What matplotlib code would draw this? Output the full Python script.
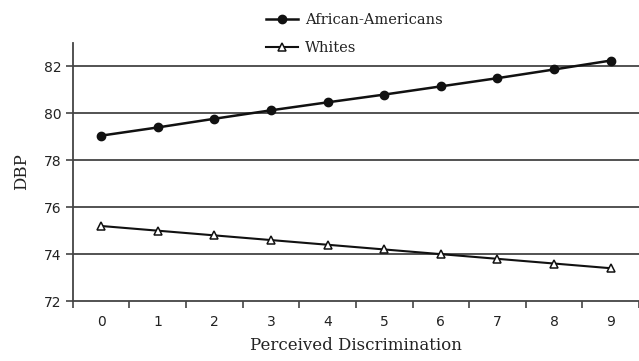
import numpy as np
import matplotlib
matplotlib.use("Agg")
import matplotlib.pyplot as plt

# data
discrimination = [0, 1, 2, 3, 4, 5, 6, 7, 8, 9]
african_americans = [79.05, 79.4, 79.77, 80.13, 80.47, 80.8, 81.15, 81.5, 81.87, 82.25]
whites = [75.2, 75.0, 74.8, 74.6, 74.4, 74.2, 74.0, 73.8, 73.6, 73.4]
y_ticks = [72, 74, 76, 78, 80, 82]

fig = plt.figure(figsize=(6.39, 3.61), dpi=100)
ax = fig.add_axes([0.114, 0.166, 0.886, 0.715])

# grid lines
for yv in y_ticks[1:]:
    ax.axhline(yv, color='#444444', lw=1.3, zorder=1)

ax.plot(discrimination, african_americans, color='#111111', lw=1.8,
        marker='o', ms=6, mfc='#111111', mec='#111111',
        label='African-Americans', zorder=3)
ax.plot(discrimination, whites, color='#111111', lw=1.5,
        marker='^', ms=6, mfc='white', mec='#111111', mew=1.1,
        label='Whites', zorder=3)

ax.set_xlim(-0.5, 9.5)
ax.set_ylim(72, 83)
ax.set_yticks(y_ticks)
ax.set_xticks(discrimination)
ax.set_xticks(np.arange(-0.5, 9.6, 1), minor=True)

for s in ['top', 'right']:
    ax.spines[s].set_visible(False)
ax.spines['left'].set_color('#444444')
ax.spines['bottom'].set_color('#444444')
ax.spines['left'].set_linewidth(1.3)
ax.spines['bottom'].set_linewidth(1.3)

ax.tick_params(axis='x', which='major', length=0, pad=10)
ax.tick_params(axis='x', which='minor', length=5, color='#444444', width=1.2)
ax.tick_params(axis='y', length=5, color='#444444', width=1.2, pad=3)
for lab in ax.get_xticklabels() + ax.get_yticklabels():
    lab.set_fontfamily('DejaVu Sans')
    lab.set_fontsize(10)
    lab.set_color('#222222')

ax.set_xlabel('Perceived Discrimination', fontfamily='DejaVu Serif',
              fontsize=12, color='#222222', labelpad=6)
ax.set_ylabel('DBP', fontfamily='DejaVu Serif', fontsize=12,
              color='#222222', labelpad=10)

leg = ax.legend(loc='upper left', bbox_to_anchor=(0.318, 1.165), frameon=False,
                prop={'family': 'DejaVu Serif', 'size': 10.5},
                handlelength=2.2, labelspacing=0.9, handletextpad=0.5)
for t in leg.get_texts():
    t.set_color('#222222')

fig.savefig('out.png', dpi=100)
